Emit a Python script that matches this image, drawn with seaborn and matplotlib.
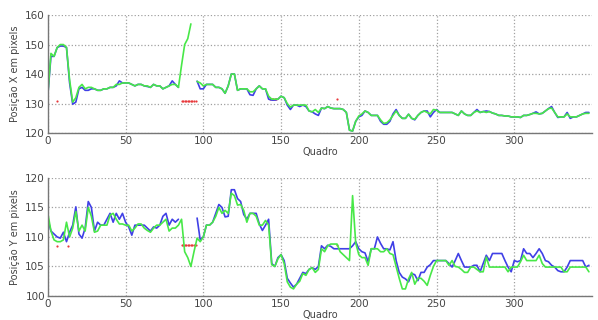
import numpy as np
import pandas as pd
import seaborn as sns
import matplotlib.pyplot as plt

# frames sampled every 2
frames = np.arange(0, 350, 2)

# Posicao X
green_x = [133, 147, 146, 149, 150, 150, 149, 138, 130.5, 132,
           135.5, 136.5, 135, 135.5, 135.5, 135, 134.5, 134.5, 135, 135,
           135.5, 135.5, 136.5, 136.5, 137, 137, 137, 136.5, 136, 136.5,
           136.5, 136, 136, 135.5, 136.5, 136, 136, 135, 135.5, 136,
           136.5, 136.5, 135.5, 143, 150, 152, 157, np.nan, 137.5, 137,
           136, 136.5, 136.5, 136.5, 135.5, 135.5, 135, 133.5, 136, 140,
           140, 134.5, 135, 135, 135, 134, 134, 135, 136, 135,
           135, 132.5, 131.5, 131.5, 131.5, 132.5, 132, 130, 128.8, 129.5,
           129.5, 129.5, 129.5, 129.5, 127.5, 127.2, 128, 127, 128.5, 128.3,
           129, 128.5, 128.3, 128.3, 128.3, 128, 127, 121, 120.7, 124,
           125.8, 126.5, 127.5, 127, 126, 126, 126, 124.5, 123.3, 123.5,
           124.5, 126, 127.5, 126, 125, 125, 126.4, 125, 124.7, 126,
           127, 127.5, 127, 126.5, 128, 127.8, 127, 127, 127, 127,
           127, 126.5, 126, 127.5, 126.5, 126, 126, 127, 127.5, 127,
           127.3, 127, 127.3, 126.8, 126.5, 126, 126, 125.8, 125.8, 125.5,
           125.5, 125.5, 125.3, 126, 126, 126.3, 126.7, 126.7, 126.5, 126.7,
           127.5, 128.3, 128.5, 127, 125.5, 125.5, 125.5, 126.5, 125.5, 125.5,
           125.5, 126, 126.5, 126.7, 126.7]

blue_x = [133, 146, 146, 149, 149.5, 149.5, 149, 137, 129.8, 130.5,
          135, 135.5, 134.5, 134.5, 135, 135, 134.5, 134.5, 135, 135,
          135.5, 135.5, 136, 137.7, 137, 137, 137, 136.5, 136, 136.5,
          136.5, 136, 135.8, 135.5, 136.5, 136, 136, 135, 135.5, 136,
          137.7, 136.5, 135.5, np.nan, np.nan, np.nan, np.nan, np.nan, 137.6, 135,
          135, 136.5, 136.5, 136.5, 135.5, 135.5, 135, 133.5, 136, 140,
          140, 134.5, 135, 135, 135, 133, 132.8, 135, 136, 135,
          135, 131.5, 131.2, 131.2, 131.5, 132.5, 132, 129.5, 128, 129.5,
          129.5, 129, 129.5, 129, 127.5, 127.2, 126.5, 126, 128.5, 128.3,
          129, 128.5, 128.3, 128.3, 128.3, 128, 127, 121, 120.7, 124,
          125.5, 126, 127.5, 127, 126, 126, 126, 124, 123, 123,
          124, 126.5, 128, 126, 125, 125, 126.4, 125, 124.5, 126,
          127, 127.5, 127.5, 125.5, 127, 128, 127, 127, 127, 127,
          127, 126.5, 126, 127.5, 126.5, 126, 126, 127, 128, 127,
          127.3, 127.5, 127.3, 126.8, 126.5, 126, 126, 125.8, 125.8, 125.5,
          125.5, 125.5, 125.3, 126, 126, 126.3, 126.7, 127.2, 126.5, 126.7,
          127.5, 128.3, 129, 127, 125.3, 125.5, 125.5, 127, 125, 125.5,
          125.5, 126, 126.5, 127, 127]

# Posicao Y
green_y = [114, 111, 109.5, 109.2, 109.2, 109.5, 112.5, 110, 111.5, 114.3,
           111, 112, 111, 115, 113.5, 110.8, 111, 112, 112, 112,
           113.7, 114, 113, 112.2, 112.2, 112, 112, 111, 111.5, 112.2,
           112.2, 111.5, 111.1, 110.8, 111.5, 112, 112, 112.5, 113, 111,
           111.5, 111.5, 112, 113, 107.5, 106.5, 105, 107.5, 109.8, 109.2,
           110, 112, 112, 112.5, 113.5, 115, 114, 114.5, 114, 117.4,
           117, 115.4, 115.5, 114.5, 112.5, 114, 114, 113.5, 112, 112,
           112.8, 112, 105.3, 105, 106.3, 107, 105.5, 102.4, 101.5, 101.2,
           102, 102.5, 103.8, 103.5, 104.5, 104.8, 104, 104.5, 108, 107.5,
           108.5, 108.8, 108.8, 108.8, 107.5, 107, 106.5, 106, 117, 109,
           107, 106.5, 106.5, 105.2, 108, 108, 108, 107.5, 107.5, 108,
           107.2, 107, 105, 103, 101.2, 101.2, 102.9, 104, 102, 103,
           103, 102.5, 101.8, 103.5, 105, 106, 106, 106, 106, 105.2,
           106, 105, 104.9, 104.5, 104, 104, 104.9, 104.9, 104.5, 104.1,
           104.1, 106.6, 104.9, 104.9, 104.9, 104.9, 104.9, 104.9, 104.1, 104.9,
           104.9, 104.9, 105.8, 106.9, 106, 106, 106, 106, 106.9, 105.5,
           104.9, 104.9, 104.9, 104.9, 104.9, 104.9, 104.1, 104.1, 104.9, 104.9,
           104.9, 104.9, 104.9, 104.9, 104.1]

blue_y = [113, 111, 110.5, 110, 109.8, 110.8, 109.2, 110.8, 112, 115.1,
          110.5, 109.8, 111.5, 116, 115, 111, 112.5, 112, 112, 113,
          114, 112.5, 114, 113, 114, 112.5, 111.7, 110.3, 112, 112,
          112, 112, 111.5, 111, 111.7, 111.5, 112, 113.5, 114, 112,
          113, 112.5, 113, np.nan, np.nan, np.nan, np.nan, np.nan, 113.2, 109.5,
          110, 112, 112, 112.5, 114, 115.5, 115, 113.4, 113.5, 118,
          118, 116.5, 116, 113.8, 113, 114, 114, 114, 112.2, 111.1,
          112, 113, 105.5, 105, 106.5, 107, 106, 103, 102.2, 101.5,
          102, 103, 104, 103.8, 104.5, 104.8, 104.5, 105, 108.5, 108,
          108.6, 108.4, 108, 108, 108, 108, 108, 108, 108.5, 109.2,
          108, 107.5, 107.3, 105.8, 108, 108, 110, 108.9, 108, 108,
          107.8, 109.2, 106, 104, 103.2, 102.9, 102.4, 103.8, 103.6, 102.6,
          104, 104, 104.9, 105.3, 106, 106, 106, 106, 106, 105.5,
          104.9, 106, 107.2, 106, 104.9, 104.9, 104.9, 105.2, 105.2, 104.1,
          105.5, 106.9, 106, 107.2, 107.2, 107.2, 107.2, 106, 104.9, 104.1,
          106, 105.8, 106, 108, 107.2, 107.2, 106.5, 107.2, 108, 107.2,
          106, 105.8, 105.2, 104.9, 104.3, 104.1, 104.1, 104.9, 106, 106,
          106, 106, 106, 104.9, 105.2]

# red marks (lost frames)
red_frames_x = [6, 86, 87, 88, 89, 90, 91, 92, 93, 94, 95, 143, 144, 145, 146, 147, 186]
red_x = [131, 130.8, 130.8, 130.8, 130.8, 130.8, 130.8, 130.8, 130.8, 130.8, 130.8,
         131.5, 131.5, 131.5, 131.5, 131.5, 131.5]
red_frames_y = [6, 13, 86, 87, 88, 89, 90, 91, 92, 93, 94, 95, 186]
red_y = [108.5, 108.5, 108.6, 108.6, 108.6, 108.6, 108.6, 108.6, 108.6, 108.6, 108.6, 108.6, 108.6]

BLUE = "#4040e6"
GREEN = "#48e848"
RED = "#e8383b"


def to_frame(vals):
    # split at gaps so each piece is its own unit
    v = np.array(vals, dtype=float)
    seg = np.cumsum(np.isnan(v))
    df = pd.DataFrame({"frame": frames, "val": v, "seg": seg})
    return df.dropna()


sns.set_style("white")
plt.rcParams["font.family"] = ["DejaVu Sans"]

fig = plt.figure(figsize=(5.98, 3.2), dpi=100)
ax1 = fig.add_axes([0.080, 0.584, 0.910, 0.369])
ax2 = fig.add_axes([0.080, 0.075, 0.910, 0.369])

panels = [
    (ax1, blue_x, green_x, red_frames_x, red_x, (120, 160), [120, 130, 140, 150, 160], "Posição X em pixels"),
    (ax2, blue_y, green_y, red_frames_y, red_y, (100, 120), [100, 105, 110, 115, 120], "Posição Y em pixels"),
]

for ax, b, g, rf, rv, ylim, yticks, ylab in panels:
    sns.lineplot(data=to_frame(b), x="frame", y="val", units="seg", estimator=None,
                 color=BLUE, lw=1.2, ax=ax)
    sns.lineplot(data=to_frame(g), x="frame", y="val", units="seg", estimator=None,
                 color=GREEN, lw=1.2, ax=ax)
    sns.scatterplot(x=rf, y=rv, color=RED, s=2.5, marker="o", linewidth=0, ax=ax, zorder=1)
    ax.set_xlim(0, 350)
    ax.set_ylim(*ylim)
    ax.set_xticks([0, 50, 100, 150, 200, 250, 300])
    ax.set_yticks(yticks)
    ax.grid(True, linestyle=":", color="#a0a0a0", lw=0.9)
    for s in ["top", "right"]:
        ax.spines[s].set_visible(False)
    for s in ["left", "bottom"]:
        ax.spines[s].set_color("#777777")
        ax.spines[s].set_linewidth(1.0)
    ax.tick_params(direction="in", length=3, width=0.8, color="#777777",
                   labelsize=7.5, labelcolor="#444444", pad=2)
    ax.set_ylabel(ylab, fontsize=7, color="#444444", labelpad=4)
    ax.set_xlabel("Quadro", fontsize=7, color="#444444", labelpad=1)

fig.savefig("out.png", dpi=100)
